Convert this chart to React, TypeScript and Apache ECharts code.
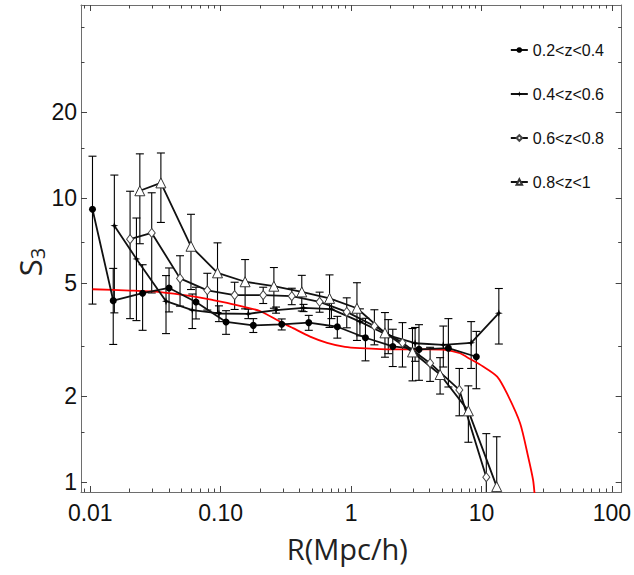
import React, { useEffect, useRef } from "react";
import * as echarts from "echarts";

// ---------- axis ranges & ticks ----------
const X_MIN = 0.00849;
const X_MAX = 119;
const Y_MIN = 0.922;
const Y_MAX = 47.8;

const xMajor = [0.01, 0.1, 1, 10, 100];
const xMajorLabels = ["0.01", "0.10", "1", "10", "100"];
const xMinor = [
  0.009,
  0.02, 0.03, 0.04, 0.05, 0.06, 0.07, 0.08, 0.09,
  0.2, 0.3, 0.4, 0.5, 0.6, 0.7, 0.8, 0.9,
  2, 3, 4, 5, 6, 7, 8, 9,
  20, 30, 40, 50, 60, 70, 80, 90,
];
const yMajor = [1, 2, 5, 10, 20];
const yMajorLabels = ["1", "2", "5", "10", "20"];
const yMinor = [1.5, 3, 7, 15, 30, 40];

// ---------- data ----------
const seriesNames = ["0.2<z<0.4", "0.4<z<0.6", "0.6<z<0.8", "0.8<z<1"];

const r1 = [0.0104, 0.015, 0.0252, 0.0402, 0.0647, 0.11, 0.178, 0.294, 0.474, 0.785, 1.29, 2.09, 3.32, 5.58, 9.14];
const s1 = [9.13, 4.35, 4.62, 4.82, 4.3, 3.66, 3.56, 3.59, 3.64, 3.52, 3.22, 3.0, 2.93, 2.96, 2.76];
const e1 = [4.9, 1.3, 1.2, 0.85, 0.55, 0.35, 0.2, 0.16, 0.22, 0.31, 0.55, 0.45, 0.65, 0.8, 0.63];

const r2 = [0.0153, 0.0226, 0.0381, 0.0606, 0.097, 0.163, 0.266, 0.432, 0.707, 1.17, 1.93, 3.1, 5.1, 8.34, 13.6];
const s2 = [7.99, 6.1, 4.33, 4.03, 3.92, 3.91, 4.03, 4.1, 4.06, 3.67, 3.28, 3.08, 3.04, 3.09, 3.93];
const e2 = [4.05, 2.4, 1.0, 0.56, 0.25, 0.15, 0.1, 0.12, 0.3, 0.4, 0.45, 0.42, 0.5, 0.58, 0.87];

const r3 = [0.0202, 0.0296, 0.0488, 0.079, 0.128, 0.212, 0.351, 0.574, 0.927, 1.51, 2.48, 4.04, 6.77, 10.9];
const s3 = [7.16, 7.53, 5.21, 4.73, 4.55, 4.55, 4.51, 4.31, 3.97, 3.54, 3.09, 2.62, 2.11, 1.04];
const e3 = [3.4, 2.9, 1.05, 0.7, 0.5, 0.3, 0.3, 0.35, 0.48, 0.5, 0.55, 0.36, 0.4, 0.44];

const r4 = [0.024, 0.0348, 0.0592, 0.0946, 0.154, 0.256, 0.419, 0.684, 1.11, 1.82, 2.96, 4.82, 7.94, 13.1];
const s4 = [10.6, 11.3, 6.76, 5.45, 5.07, 4.89, 4.67, 4.43, 4.09, 3.35, 2.87, 2.39, 1.78, 0.963];
const e4 = [3.7, 3.1, 2.0, 1.5, 1.0, 0.8, 0.67, 0.93, 0.94, 0.6, 0.6, 0.35, 0.4, 0.48];

// model curve (red)
const rModel = [0.0104, 0.0202, 0.0343, 0.0613, 0.0874, 0.112, 0.159, 0.2, 0.285, 0.359, 0.485, 0.655, 0.899, 1.17, 2.1, 3.83, 5.26, 6.86, 7.76, 10.3, 13.2, 15.7, 19.8, 22.8, 24.9, 25.6];
const sModel = [4.77, 4.72, 4.66, 4.5, 4.37, 4.27, 4.11, 4.0, 3.67, 3.48, 3.25, 3.09, 2.99, 2.96, 2.93, 2.93, 2.92, 2.84, 2.75, 2.55, 2.35, 2.05, 1.61, 1.23, 1.016, 0.9];

const FRAME = "#6e6e6e";
const TICK = "#444";
const LABEL_FONT = "'Liberation Sans', Arial, sans-serif";
const TITLE_FONT = "'Open Sans', 'Noto Sans', sans-serif";

const starPath =
  "path://M0,-6 L1.4,-1.4 L6,0 L1.4,1.4 L0,6 L-1.4,1.4 L-6,0 L-1.4,-1.4 Z";

function zipXY(xs: number[], ys: number[]) {
  return xs.map((x, i) => [x, ys[i]]);
}
function zipXYE(xs: number[], ys: number[], es: number[]) {
  return xs.map((x, i) => [x, ys[i], es[i]]);
}

function findLabel(v: number, vals: number[], labels: string[]) {
  const i = vals.findIndex((t) => Math.abs(Math.log10(t) - Math.log10(v)) < 1e-6);
  return i >= 0 ? labels[i] : "";
}

function xAxisCfg(position: string, ticks: number[], len: number, withLabels: boolean, showLine: boolean) {
  return {
    type: "log",
    logBase: 10,
    min: X_MIN,
    max: X_MAX,
    position,
    axisLine: { show: showLine, onZero: false, lineStyle: { color: FRAME, width: 1 } },
    axisTick: {
      show: true,
      inside: true,
      length: len,
      customValues: ticks,
      lineStyle: { color: TICK, width: 1 },
    },
    axisLabel: withLabels
      ? {
          show: true,
          customValues: xMajor,
          margin: 9,
          fontSize: 23,
          fontFamily: LABEL_FONT,
          color: "#111",
          formatter: (v: number) => findLabel(v, xMajor, xMajorLabels),
        }
      : { show: false },
    splitLine: { show: false },
    minorTick: { show: false },
  };
}

function yAxisCfg(position: string, ticks: number[], len: number, withLabels: boolean, showLine: boolean) {
  return {
    type: "log",
    logBase: 10,
    min: Y_MIN,
    max: Y_MAX,
    position,
    axisLine: { show: showLine, onZero: false, lineStyle: { color: FRAME, width: 1 } },
    axisTick: {
      show: true,
      inside: true,
      length: len,
      customValues: ticks,
      lineStyle: { color: TICK, width: 1 },
    },
    axisLabel: withLabels
      ? {
          show: true,
          customValues: yMajor,
          margin: 4,
          fontSize: 23,
          fontFamily: LABEL_FONT,
          color: "#111",
          formatter: (v: number) => findLabel(v, yMajor, yMajorLabels),
        }
      : { show: false },
    splitLine: { show: false },
    minorTick: { show: false },
  };
}

function errorSeries(data: number[][], z: number) {
  return {
    type: "custom",
    xAxisIndex: 0,
    yAxisIndex: 0,
    clip: true,
    z,
    silent: true,
    data,
    encode: { x: 0, y: 1 },
    renderItem: (params: any, api: any) => {
      const x = api.value(0);
      const y = api.value(1);
      const e = api.value(2);
      const top = api.coord([x, y + e]);
      const lowVal = Math.max(y - e, 0.05);
      const bot = api.coord([x, lowVal]);
      const w = 4;
      const style = { stroke: "#000", lineWidth: 1.1 };
      return {
        type: "group",
        children: [
          { type: "line", shape: { x1: top[0], y1: top[1], x2: bot[0], y2: bot[1] }, style },
          { type: "line", shape: { x1: top[0] - w, y1: top[1], x2: top[0] + w, y2: top[1] }, style },
          { type: "line", shape: { x1: bot[0] - w, y1: bot[1], x2: bot[0] + w, y2: bot[1] }, style },
        ],
      };
    },
  };
}

function lineSeries(name: string, data: number[][], symbol: string, size: any, itemStyle: any) {
  return {
    type: "line",
    name,
    xAxisIndex: 0,
    yAxisIndex: 0,
    data,
    symbol,
    symbolSize: size,
    showAllSymbol: true,
    clip: true,
    z: 4,
    lineStyle: { color: "#111", width: 1.8 },
    itemStyle,
  };
}

export default function App() {
  const ref = useRef<HTMLDivElement>(null);

  useEffect(() => {
    if (!ref.current) return;
    const chart = echarts.init(ref.current, null, { renderer: "svg" });

    const option: any = {
      animation: false,
      backgroundColor: "#fff",
      grid: { left: 81, right: 12, top: 5, bottom: 83, containLabel: false },
      xAxis: [
        {
          ...xAxisCfg("bottom", xMajor, 6, true, true),
          name: "R(Mpc/h)",
          nameLocation: "middle",
          nameGap: 42,
          nameTextStyle: { fontSize: 29, fontFamily: TITLE_FONT, color: "#222", padding: [0, 8, 0, 0] },
        },
        xAxisCfg("bottom", xMinor, 3.5, false, false),
        xAxisCfg("top", xMajor, 6, false, true),
        xAxisCfg("top", xMinor, 3.5, false, false),
      ],
      yAxis: [
        yAxisCfg("left", yMajor, 6, true, true),
        yAxisCfg("left", yMinor, 3.5, false, false),
        yAxisCfg("right", yMajor, 6, false, true),
        yAxisCfg("right", yMinor, 3.5, false, false),
      ],
      legend: {
        data: seriesNames,
        orient: "vertical",
        right: 25,
        top: 36,
        itemWidth: 17,
        itemHeight: 7,
        itemGap: 26,
        textStyle: { fontSize: 16, fontFamily: LABEL_FONT, color: "#111", lineHeight: 18 },
      },
      graphic: [
        {
          type: "text",
          x: 30,
          y: 262,
          rotation: Math.PI / 2,
          style: {
            text: "S{sub|3}",
            fontSize: 31,
            fontFamily: TITLE_FONT,
            fill: "#222",
            align: "center",
            verticalAlign: "middle",
            rich: {
              sub: { fontSize: 20, fontFamily: TITLE_FONT, fill: "#222", padding: [14, 0, 0, 0] },
            },
          },
        },
      ],
      series: [
        {
          type: "line",
          name: "model",
          xAxisIndex: 0,
          yAxisIndex: 0,
          data: zipXY(rModel, sModel),
          symbol: "none",
          smooth: 0.25,
          clip: true,
          z: 3,
          lineStyle: { color: "#ff0000", width: 1.8 },
        },
        errorSeries(zipXYE(r1, s1, e1), 2),
        errorSeries(zipXYE(r2, s2, e2), 2),
        errorSeries(zipXYE(r3, s3, e3), 2),
        errorSeries(zipXYE(r4, s4, e4), 2),
        lineSeries(seriesNames[0], zipXY(r1, s1), "circle", 7, { color: "#000" }),
        lineSeries(seriesNames[1], zipXY(r2, s2), starPath, 8, { color: "#000" }),
        lineSeries(seriesNames[2], zipXY(r3, s3), "diamond", [7, 9], {
          color: "#fff",
          borderColor: "#444",
          borderWidth: 1,
        }),
        lineSeries(seriesNames[3], zipXY(r4, s4), "triangle", 10, {
          color: "#fff",
          borderColor: "#333",
          borderWidth: 1,
        }),
      ],
    };

    chart.setOption(option);
    return () => {
      chart.dispose();
    };
  }, []);

  return (
    <div
      ref={ref}
      style={{ position: "fixed", left: 0, top: 0, width: 634, height: 575, background: "#fff" }}
    />
  );
}
